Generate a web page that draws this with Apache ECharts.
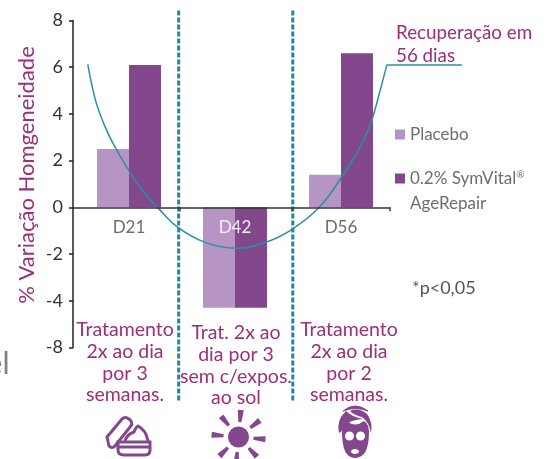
<!DOCTYPE html>
<html>
<head>
    <meta charset="utf-8">
    <title>Homogeneidade</title>
    <script src="https://cdn.jsdelivr.net/npm/echarts@6/dist/echarts.min.js"></script>
    <style>
        html, body { margin: 0; padding: 0; background: #fff; }
        #main { width: 549px; height: 459px; }
    </style>
</head>
<body>
    <div id="main"></div>
    <script type="text/javascript">

    var categories = ['D21', 'D42', 'D56'];
    var placebo = [2.5, -4.3, 1.4];
    var symVital = [6.1, -4.3, 6.6];
    var placeboName = 'Placebo';
    var symVitalName = '0.2% SymVital®';
    var symVitalLine2 = 'AgeRepair';

    // the source axis jumps from -4 straight to -8, one step lower
    var yTickValues = [8, 6, 4, 2, 0, -2, -4, -6];
    var yTickLabels = ['8', '6', '4', '2', '0', '-2', '-4', '-8'];

    // x is in category widths along the axis
    var curveX = [0.14, 0.177, 0.224, 0.30, 0.38, 0.52, 0.66, 0.80, 0.99, 1.25, 1.55, 1.82, 2.07, 2.33, 2.54, 2.735, 2.83, 2.905, 2.97];
    var curveY = [6.12, 5.27, 4.41, 3.49, 2.73, 1.64, 0.71, 0, -0.85, -1.5, -1.75, -1.5, -0.95, 0, 1.28, 2.73, 3.77, 4.98, 6.1];
    var plateauX = [2.97, 3.68];
    var plateauY = [6.1, 6.1];
    var dividerX = [1.00, 2.08];
    var dividerY = [8.43, -8.32];
    var xTicks = [1.01, 2.07, 3];

    var notes = [
        'Tratamento\n2x ao dia\npor 3\nsemanas.',
        'Trat. 2x ao\ndia por 3\nsem c/expos.\nao sol',
        'Tratamento\n2x ao dia\npor 2\nsemanas.'
    ];
    var recovery = 'Recuperação em\n56 dias';
    var pNote = '*p<0,05';
    var yTitle = '% Variação Homgeneidade';

    var font = 'Lato';
    var magenta = '#9b2f78';
    var light = '#b694c3';
    var dark = '#82488b';
    var teal = '#2a8fa8';
    var dashTeal = '#1f88a5';

    function zip(a, b) {
        return a.map(function (v, i) { return [v, b[i]]; });
    }

    function noteText(text, x, y) {
        return {
            type: 'text', x: x, y: y, z: 20,
            style: {
                text: text, font: '19.5px ' + font, fill: magenta,
                align: 'center', lineHeight: 21.7
            }
        };
    }

    function sunRays() {
        var out = [];
        var angles = [85, 38, -5, -47, -95, -135, 175, 130];
        for (var i = 0; i < angles.length; i++) {
            out.push({
                type: 'polygon', x: 238.5, y: 437, rotation: angles[i] * Math.PI / 180, z: 20,
                shape: { points: [[15, -1.5], [27, -3], [27, 3], [15, 1.5]] },
                style: { fill: dark }
            });
        }
        return out;
    }

    function iconShape(name, d) {
        echarts.graphic.registerShape(name, echarts.graphic.extendPath(d, {}));
    }
    iconShape('jarLid', 'M107,437 L122,419 Q125,416 129,419 L131,421 Q133,424 130,427 L115,446 Q112,449 109,446 Z');
    iconShape('jarCream', 'M125,441 Q127,434 134,432 Q136,427 138,426 Q146,430 148,441');
    iconShape('jarBase', 'M118,442 L150,442 L150,450 Q150,455 145,455 L124,455 Q118,455 118,450 Z M118,447 L150,447');
    iconShape('maskFace', 'M342,432 Q342,458 355,458 Q369,458 369,432 Q369,424 364,421 Q355,428 347,421 Q342,424 342,432 Z');
    iconShape('maskTowel', 'M339,433 Q336,420 346,411 Q352,417 363,419 Q345,420 342,431 Z M350,411 Q358,407 367,414 Q373,422 371,433 Q369,422 362,417 Q354,415 350,411 Z');
    iconShape('maskTop', 'M343,411 Q355,401 368,411 Q355,406 343,411 Z');

    var myChart = echarts.init(document.getElementById('main'));

    var option = {
        animation: false,
        textStyle: { fontFamily: font },
        grid: [
            { left: 76, top: 20.5, width: 318, height: 327 },
            { left: 73, top: 20.5, width: 317, height: 327 },
            { left: 73, top: 20.5, width: 450, height: 327 }
        ],
        legend: {
            orient: 'vertical', left: 395, top: 126, padding: 0, itemWidth: 10, itemHeight: 10,
            itemGap: 27, icon: 'rect', data: [placeboName, symVitalName],
            formatter: function (name) { return name.replace('®', '{sup|®}'); },
            textStyle: {
                color: '#6d6d6d', fontSize: 17, fontFamily: font,
                rich: { sup: { fontSize: 10, color: '#6d6d6d', fontFamily: font, verticalAlign: 'top' } }
            }
        },
        xAxis: [
            {
                // sits on the zero line of the y axis, 140px above the grid bottom
                gridIndex: 0, type: 'category', data: categories, z: 10, offset: -140,
                axisLine: { show: false, onZero: false }, axisTick: { show: false },
                axisLabel: {
                    fontSize: 17, margin: 12, fontFamily: font,
                    color: function (v) { return v === 'D42' ? '#f4eef6' : '#6d6d6d'; }
                }
            },
            {
                gridIndex: 1, type: 'value', min: 0, max: 3, z: 10,
                splitLine: { show: false }, axisLabel: { show: false },
                axisLine: { onZero: true, lineStyle: { color: '#333', width: 1.5 } },
                axisTick: { customValues: xTicks, length: 4, lineStyle: { color: '#444', width: 1.5 } }
            },
            {
                gridIndex: 2, type: 'value', min: 0, max: 450 / 105.67, show: false
            }
        ],
        yAxis: [
            {
                gridIndex: 0, type: 'value', min: -6, max: 8, interval: 2,
                axisLine: { show: false }, axisTick: { show: false },
                axisLabel: { show: false }, splitLine: { show: false }
            },
            {
                gridIndex: 1, type: 'value', min: -6, max: 8, interval: 2, z: 10,
                splitLine: { show: false },
                axisLine: { onZero: false, lineStyle: { color: '#222', width: 1.5 } },
                axisTick: { length: 4, lineStyle: { color: '#222', width: 1.5 } },
                axisLabel: {
                    fontSize: 18, margin: 10, color: '#333', fontFamily: font,
                    formatter: function (v) { return yTickLabels[yTickValues.indexOf(v)]; }
                }
            },
            {
                gridIndex: 2, type: 'value', min: -6, max: 8, interval: 2, show: false
            }
        ],
        series: [
            {
                name: placeboName, type: 'bar', xAxisIndex: 0, yAxisIndex: 0, data: placebo,
                barWidth: 32, barGap: 0, itemStyle: { color: light }
            },
            {
                name: symVitalName, type: 'bar', xAxisIndex: 0, yAxisIndex: 0, data: symVital,
                barWidth: 32, barGap: 0, itemStyle: { color: dark }
            },
            {
                type: 'line', xAxisIndex: 1, yAxisIndex: 1, data: zip(curveX, curveY), smooth: 0.4,
                showSymbol: false, clip: false, z: 6, lineStyle: { color: teal, width: 1.5 }
            },
            {
                type: 'line', xAxisIndex: 2, yAxisIndex: 2, data: zip(plateauX, plateauY),
                showSymbol: false, clip: false, z: 6, lineStyle: { color: teal, width: 1.5 }
            },
            {
                type: 'line', xAxisIndex: 1, yAxisIndex: 1,
                data: zip([dividerX[0], dividerX[0]], dividerY),
                showSymbol: false, clip: false, z: 7,
                lineStyle: { color: dashTeal, width: 3, type: [5, 2] }
            },
            {
                type: 'line', xAxisIndex: 1, yAxisIndex: 1,
                data: zip([dividerX[1], dividerX[1]], dividerY),
                showSymbol: false, clip: false, z: 7,
                lineStyle: { color: dashTeal, width: 3, type: [5, 2] }
            }
        ],
        graphic: [
            {
                type: 'text', x: 27, y: 175, rotation: Math.PI / 2, z: 20,
                style: { text: yTitle, font: '22px ' + font, fill: magenta, align: 'center', verticalAlign: 'middle' }
            },
            noteText(notes[0], 125, 319),
            noteText(notes[1], 236, 322),
            noteText(notes[2], 349, 319),
            {
                type: 'text', x: 396, y: 21, z: 20,
                style: { text: recovery, font: '18.8px ' + font, fill: magenta, lineHeight: 23 }
            },
            {
                type: 'text', x: 410, y: 195, z: 20,
                style: { text: symVitalLine2, font: '17px ' + font, fill: '#6d6d6d' }
            },
            {
                type: 'text', x: 412, y: 279, z: 20,
                style: { text: pNote, font: '18px ' + font, fill: '#555' }
            },
            {
                type: 'text', x: 9.5, y: 349, z: 20,
                style: { text: 'el', font: '30px ' + font, fill: '#808080', align: 'right' }
            },
            // jar
            { type: 'jarLid', z: 20, style: { fill: 'none', stroke: dark, lineWidth: 3 } },
            { type: 'jarCream', z: 20, style: { fill: 'none', stroke: dark, lineWidth: 3 } },
            { type: 'jarBase', z: 20, style: { fill: 'none', stroke: dark, lineWidth: 3 } },
            // sun
            { type: 'circle', z: 20, shape: { cx: 238.5, cy: 437, r: 10.5 }, style: { fill: dark } }
        ].concat(sunRays()).concat([
            // mask
            { type: 'maskFace', z: 20, style: { fill: dark } },
            { type: 'maskTowel', z: 20, style: { fill: dark } },
            { type: 'maskTop', z: 20, style: { fill: dark, stroke: dark, lineWidth: 1 } },
            { type: 'circle', z: 21, shape: { cx: 349.5, cy: 436, r: 4.5 }, style: { fill: '#fff' } },
            { type: 'circle', z: 21, shape: { cx: 360.5, cy: 436, r: 4.5 }, style: { fill: '#fff' } },
            { type: 'ellipse', z: 21, shape: { cx: 355, cy: 451.5, rx: 4, ry: 2.5 }, style: { fill: '#fff' } }
        ])
    };

    myChart.setOption(option);

    </script>
</body>
</html>
